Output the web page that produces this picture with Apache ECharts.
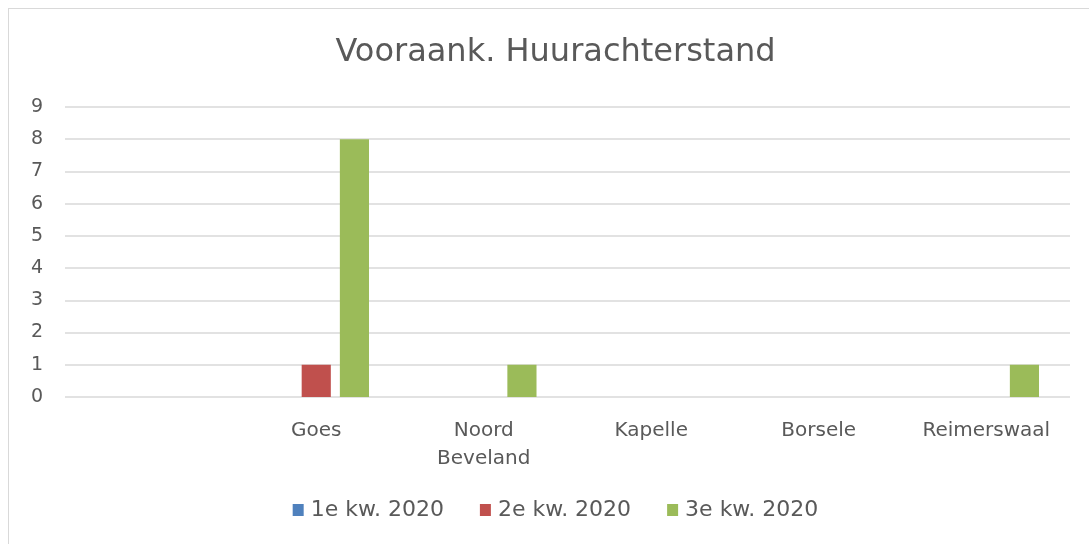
<!DOCTYPE html>
<html>
<head>
<meta charset="utf-8">
<script src="https://cdn.jsdelivr.net/npm/echarts@6/dist/echarts.min.js"></script>
<style>
  html, body { margin: 0; padding: 0; background: #fff; overflow: hidden; width: 1089px; height: 544px; }
  #frame { position: absolute; left: 8px; top: 8px; width: 1100px; height: 560px; border: 1.5px solid #d9d9d9; }
  /* the source chart box runs past the right edge of the picture */
  #main { position: absolute; left: 0; top: 0; width: 1111px; height: 544px; }
</style>
</head>
<body>
<div id="frame"></div>
<div id="main"></div>
<script>
// categories (first one is blank in the source sheet)
var categories = ['', 'Goes', 'Noord\nBeveland', 'Kapelle', 'Borsele', 'Reimerswaal'];
var seriesNames = ['1e kw. 2020', '2e kw. 2020', '3e kw. 2020'];
var q1 = [null, null, null, null, null, null];
var q2 = [null, 1, null, null, null, null];
var q3 = [null, 8, 1, null, null, 1];
var colors = ['#4f81bd', '#c0504d', '#9bbb59'];

var chart = echarts.init(document.getElementById('main'));
var labelFont = '"DejaVu Sans", sans-serif';

function bar(name, data, color) {
  return {
    name: name,
    type: 'bar',
    data: data,
    barGap: '31%',
    barCategoryGap: '37%',
    itemStyle: { color: color }
  };
}

var option = {
  animation: false,
  title: {
    text: 'Vooraank. Huurachterstand',
    left: 'center',
    top: 32,
    textStyle: { fontFamily: labelFont, fontWeight: 'normal', fontSize: 32, color: '#595959' }
  },
  color: colors,
  legend: {
    bottom: 18,
    left: 'center',
    icon: 'rect',
    itemWidth: 11,
    itemHeight: 12,
    itemGap: 36,
    textStyle: { fontFamily: labelFont, fontSize: 22, color: '#595959', padding: [0, 0, 0, 2] },
    data: seriesNames
  },
  grid: { left: 65, right: 41, top: 107, bottom: 147 },
  xAxis: {
    type: 'category',
    data: categories,
    axisLine: { show: false },
    axisTick: { show: false },
    axisLabel: { interval: 0, margin: 20, lineHeight: 28, fontFamily: labelFont, fontSize: 20, color: '#595959' }
  },
  yAxis: {
    type: 'value',
    min: 0,
    max: 9,
    interval: 1,
    axisLabel: { margin: 22, fontFamily: labelFont, fontSize: 19, color: '#595959' },
    splitLine: { lineStyle: { color: '#d9d9d9', width: 1.5 } }
  },
  series: [
    bar(seriesNames[0], q1, colors[0]),
    bar(seriesNames[1], q2, colors[1]),
    bar(seriesNames[2], q3, colors[2])
  ]
};
chart.setOption(option);
</script>
</body>
</html>
